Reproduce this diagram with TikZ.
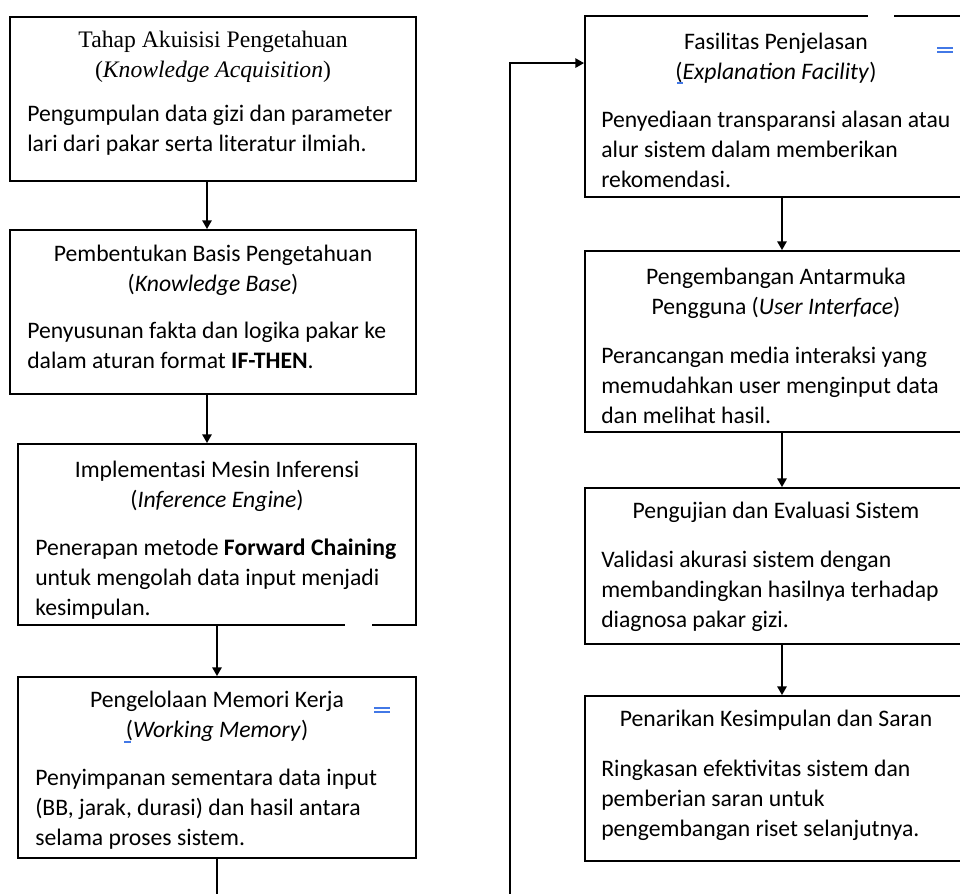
\documentclass[tikz,border=0pt]{standalone}
\usepackage{fontspec}
\setmainfont{Carlito}
\newfontfamily\timesfont{Liberation Serif}
\usetikzlibrary{arrows.meta,fit,calc}
\definecolor{markblue}{RGB}{66,120,230}
\newcommand{\boxfont}{\fontsize{17.75pt}{22.5pt}\selectfont}

\begin{document}
\begin{tikzpicture}[x=0.75pt,y=-0.75pt,font=\boxfont,
	box/.style={draw,line width=1.4pt,inner sep=0pt},
	head/.style={anchor=base,align=center,inner sep=0pt},
	body/.style={anchor=base west,align=left,inner sep=0pt},
	arr/.style={-{Triangle[length=6.5pt,width=7pt]},line width=1.2pt},
	editmark/.style={draw=markblue,line width=1.1pt}]
				\useasboundingbox (0,0) rectangle (960,893);
				\node[box,fit={(10,17) (416,181)}] (acq) {};
				\node[head,font=\timesfont\boxfont] (acq-head) at (213,77) {Tahap Akuisisi Pengetahuan\\(\textit{Knowledge Acquisition})};
				\node[body] (acq-body) at (27,151) {Pengumpulan data gizi dan parameter\\lari dari pakar serta literatur ilmiah.};
				\node[box,fit={(10,230) (416,394)}] (kb) {};
				\node[head] (kb-head) at (213,291) {Pembentukan Basis Pengetahuan\\(\textit{Knowledge Base})};
				\node[body] (kb-body) at (27,368) {Penyusunan fakta dan logika pakar ke\\dalam aturan format \textbf{IF-THEN}.};
				\node[box,fit={(18,444) (416,625)}] (ie) {};
				\node[head] (ie-head) at (217,507) {Implementasi Mesin Inferensi\\(\textit{Inference Engine})};
				\node[body] (ie-body) at (35,615) {Penerapan metode \textbf{Forward Chaining}\\untuk mengolah data input menjadi\\kesimpulan.};
				\node[box,fit={(18,677) (416,858)}] (wm) {};
				\node[head] (wm-head) at (217,737) {Pengelolaan Memori Kerja\\(\textit{Working Memory})};
				\node[body] (wm-body) at (35,845) {Penyimpanan sementara data input\\(BB, jarak, durasi) dan hasil antara\\selama proses sistem.};
				\node[box,fit={(585,16) (967,197)}] (ef) {};
				\node[head] (ef-head) at (776,79) {Fasilitas Penjelasan\\(\textit{Explanation Facility})};
				\node[body] (ef-body) at (601,187) {Penyediaan transparansi alasan atau\\alur sistem dalam memberikan\\rekomendasi.};
				\node[box,fit={(585,251) (967,432)}] (ui) {};
				\node[head] (ui-head) at (776,314) {Pengembangan Antarmuka\\Pengguna (\textit{User Interface})};
				\node[body] (ui-body) at (601,423) {Perancangan media interaksi yang\\memudahkan user menginput data\\dan melihat hasil.};
				\node[box,fit={(585,488) (967,644)}] (ev) {};
				\node[head] (ev-head) at (776,518) {Pengujian dan Evaluasi Sistem};
				\node[body] (ev-body) at (601,627) {Validasi akurasi sistem dengan\\membandingkan hasilnya terhadap\\diagnosa pakar gizi.};
				\node[box,fit={(585,696) (967,861)}] (cs) {};
				\node[head] (cs-head) at (776,726) {Penarikan Kesimpulan dan Saran};
				\node[body] (cs-body) at (601,836) {Ringkasan efektivitas sistem dan\\pemberian saran untuk\\pengembangan riset selanjutnya.};
				\coordinate (turn) at (510,915);
				\draw[arr] ($(acq.south)+(-6,0)$) -- ($(kb.north)+(-6,0)$);
				\draw[arr] ($(kb.south)+(-6,0)$) -- ($(ie.north)+(-10,0)$);
				\draw[arr] (ie.south) -- (wm.north);
				\draw[arr] (wm.south) |- (turn) |- ($(ef.north west)+(0,48)$);
				\draw[arr] ($(ef.south)+(6,0)$) -- ($(ui.north)+(6,0)$);
				\draw[arr] ($(ui.south)+(6,0)$) -- ($(ev.north)+(6,0)$);
				\draw[arr] ($(ev.south)+(6,0)$) -- ($(cs.north)+(6,0)$);
				\fill[white] (345,621) rectangle (372,629);
				\fill[white] (868,12) rectangle (894,20);
				\draw[editmark] (374,708) -- (390,708) (374,712) -- (390,712) (124,742) -- (131,742);
				\draw[editmark] (937,48) -- (953,48) (937,52) -- (953,52) (677,83) -- (683,83);
			\end{tikzpicture}
\end{document}
